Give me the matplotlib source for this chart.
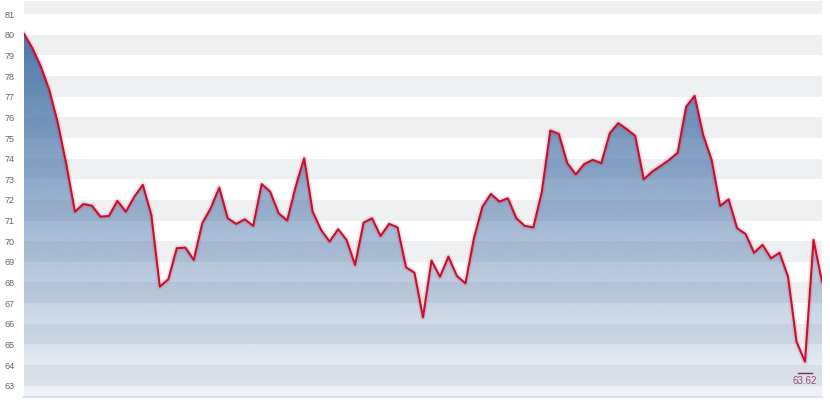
import matplotlib
matplotlib.use('Agg')
import matplotlib.pyplot as plt
import numpy as np
from matplotlib.colors import to_rgb
from matplotlib.patches import Polygon

plt.rcParams['font.family'] = ['Liberation Sans', 'DejaVu Sans']

values = [80.05, 79.35, 78.45, 77.3, 75.7, 73.7, 71.43, 71.8, 71.72, 71.19,
          71.22, 71.95, 71.43, 72.16, 72.73, 71.27, 67.80, 68.15, 69.66, 69.69,
          69.09, 70.87, 71.60, 72.60, 71.11, 70.84, 71.06, 70.74, 72.77, 72.40,
          71.35, 71.00, 72.64, 74.02, 71.43, 70.54, 69.98, 70.58, 70.06, 68.85,
          70.90, 71.11, 70.25, 70.84, 70.67, 68.74, 68.47, 66.31, 69.06, 68.28,
          69.25, 68.31, 67.96, 70.14, 71.67, 72.29, 71.92, 72.08, 71.11, 70.74,
          70.67, 72.40, 75.36, 75.20, 73.78, 73.24, 73.74, 73.94, 73.78, 75.23,
          75.72, 75.43, 75.10, 73.00, 73.37, 73.65, 73.94, 74.29, 76.52, 77.04,
          75.15, 73.94, 71.71, 72.03, 70.63, 70.35, 69.44, 69.82, 69.17, 69.44,
          68.28, 65.13, 64.16, 70.06, 68.04]
y_ticks = list(range(63, 82))
min_label = 63.62

Y_LO, Y_HI = 62.45, 81.64

fig = plt.figure(figsize=(8.3, 4.03), dpi=100)
ax = fig.add_axes([24/830, 6/403, 798/830, 396/403])
n = len(values)
x = np.arange(n)

# alternating bands
for lo in range(63, 82, 2):
    ax.axhspan(lo, lo + 1, color='#eff0f2', lw=0, zorder=0)

# gradient area
verts = [(0, Y_LO)] + list(zip(x, values)) + [(n - 1, Y_LO)]
poly = Polygon(verts, closed=True, facecolor='none', edgecolor='none')
ax.add_patch(poly)
rgb = to_rgb('#4572a7')
t = np.linspace(0, 1, 256)
img = np.zeros((256, 1, 4))
img[..., 0] = rgb[0]
img[..., 1] = rgb[1]
img[..., 2] = rgb[2]
img[:, 0, 3] = 0.08 + 0.87 * t
im = ax.imshow(img, extent=[0, n - 1, Y_LO, max(values)], origin='lower',
               aspect='auto', zorder=1, interpolation='bilinear')
im.set_clip_path(poly)

# line with soft shadow
ax.plot(x, values, color='#c8102e', lw=4, alpha=0.12, zorder=2,
        solid_joinstyle='round')
ax.plot(x, values, color='#c8102e', lw=1.5, zorder=3, solid_joinstyle='round')

# min annotation
imin = int(np.argmin(values))
ax.plot([imin - 0.82, imin + 0.82], [min_label, min_label], color='#7a3050',
        lw=1.0, zorder=4)
ax.annotate(f'{min_label:.2f}', xy=(imin, min_label), xytext=(0, -2),
            textcoords='offset points', ha='center', va='top', fontsize=7,
            color='#9b4a6e', zorder=4)

ax.set_xlim(0, n - 1)
ax.set_ylim(Y_LO, Y_HI)
ax.set_yticks(y_ticks)
ax.set_xticks([])
ax.tick_params(axis='y', length=0, pad=7, labelsize=6.5, labelcolor='#666666')
for s in ['left', 'right', 'top']:
    ax.spines[s].set_visible(False)
ax.spines['bottom'].set_color('#dde0e4')
ax.spines['bottom'].set_linewidth(1.5)

fig.savefig('out.png', dpi=100)
